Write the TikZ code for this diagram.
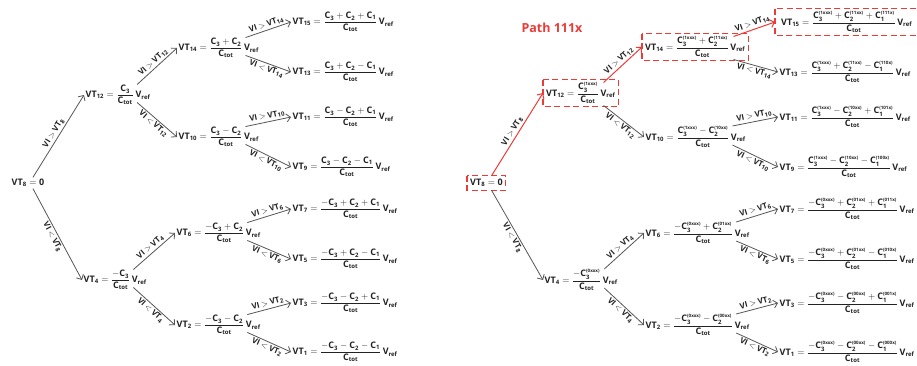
\documentclass[tikz,border=0pt]{standalone}
\usepackage{amsmath}
\usepackage{fontspec}
\setmainfont{Open Sans}
\usetikzlibrary{arrows.meta,calc}
\definecolor{ink}{HTML}{222222}
\definecolor{ln}{HTML}{555555}
\definecolor{pr}{HTML}{EC3A36}
\newcommand\VT[1]{\text{VT}_{\text{#1}}}
\newcommand\Cs[1]{\text{C}_{\text{#1}}}
\newcommand\Cx[2]{\text{C}_{\text{#1}}^{\text{\fontsize{4.5}{5}\selectfont(#2)}}}
\newcommand\Ctot{\text{C}_{\text{tot}}}
\newcommand\Vref{\text{V}_{\text{ref}}}
\newcommand\Eq[2]{$\VT{#1} = \dfrac{#2}{\Ctot}\,\Vref$}
\tikzset{
  eqn/.style={anchor=west, inner sep=1.5pt, font=\bfseries\fontsize{9}{10}\selectfont},
  hl/.style={inner sep=3pt},
  hlbox/.style={draw=pr, dash pattern=on 6pt off 3.5pt, line width=1.2pt},
  arr/.style={draw=ln, line width=0.8pt, -{Straight Barb[length=4pt,width=8pt]}},
  rarr/.style={draw=pr, line width=1pt, -{Straight Barb[length=4pt,width=8pt]}},
  lab/.style={sloped, midway, font=\bfseries\fontsize{8}{9}\selectfont, inner sep=1.5pt},
  tag/.style={text=pr, font=\bfseries\fontsize{12.5}{14}\selectfont, anchor=west}
}
\begin{document}
\begin{tikzpicture}[x=1pt,y=-1pt,color=ink]
\useasboundingbox (0,0) rectangle (917,366);
% ---------------- left tree ----------------
\node[eqn] (r) at (10,183) {$\VT{8} = \text{0}$};
\node[eqn] (a) at (84,95) {\Eq{12}{\Cs3}};
\node[eqn] (b) at (82,280) {\Eq{4}{-\Cs3}};
\node[eqn] (c) at (177,48) {\Eq{14}{\Cs3 + \Cs2}};
\node[eqn] (d) at (177,137) {\Eq{10}{\Cs3 - \Cs2}};
\node[eqn] (e) at (175,233) {\Eq{6}{-\Cs3 + \Cs2}};
\node[eqn] (f) at (175,325) {\Eq{2}{-\Cs3 - \Cs2}};
\node[eqn] (l15) at (291,22) {\Eq{15}{\Cs3 + \Cs2 + \Cs1}};
\node[eqn] (l13) at (291,72) {\Eq{13}{\Cs3 + \Cs2 - \Cs1}};
\node[eqn] (l11) at (291,117) {\Eq{11}{\Cs3 - \Cs2 + \Cs1}};
\node[eqn] (l9) at (291,167) {\Eq{9}{\Cs3 - \Cs2 - \Cs1}};
\node[eqn] (l7) at (291,209) {\Eq{7}{-\Cs3 + \Cs2 + \Cs1}};
\node[eqn] (l5) at (291,259) {\Eq{5}{-\Cs3 + \Cs2 - \Cs1}};
\node[eqn] (l3) at (291,303) {\Eq{3}{-\Cs3 - \Cs2 + \Cs1}};
\node[eqn] (l1) at (291,352) {\Eq{1}{-\Cs3 - \Cs2 - \Cs1}};
% arrows left
\draw[arr] ([xshift=5pt]r.north) -- node[lab,above]{VI $>$ $\VT{8}$} (a.west);
\draw[arr] ([xshift=5pt]r.south) -- node[lab,below]{VI $<$ $\VT{8}$} (b.west);
\foreach \p/\q/\s/\n in {a/c/d/12, b/e/f/4, c/l15/l13/14, d/l11/l9/10, e/l7/l5/6, f/l3/l1/2}{
  \draw[arr] ([xshift=-15pt,yshift=-1pt]\p.north east) -- node[lab,above]{VI $>$ $\VT{\n}$} (\q.west);
  \draw[arr] ([xshift=-15pt,yshift=4pt]\p.south east) -- node[lab,below]{VI $<$ $\VT{\n}$} (\s.west);
}
% ---------------- right tree ----------------
\node[tag] (path) at (518,28) {Path 111x};
\node[eqn,hl] (R) at (467,183) {$\VT{8} = \text{0}$};
\node[eqn,hl] (A) at (543,93) {\Eq{12}{\Cx3{1xxx}}};
\node[eqn] (B) at (543,280) {\Eq{4}{-\Cx3{0xxx}}};
\node[eqn,hl] (C) at (642,47) {\Eq{14}{\Cx3{1xxx} + \Cx2{11xx}}};
\node[eqn] (D) at (644,137) {\Eq{10}{\Cx3{1xxx} - \Cx2{10xx}}};
\node[eqn] (E) at (644,233) {\Eq{6}{-\Cx3{0xxx} + \Cx2{01xx}}};
\node[eqn] (F) at (644,325) {\Eq{2}{-\Cx3{0xxx} - \Cx2{00xx}}};
\node[eqn,hl,inner xsep=6pt] (r15) at (775,22) {\Eq{15}{\Cx3{1xxx} + \Cx2{11xx} + \Cx1{111x}}};
\node[eqn] (r13) at (778,72) {\Eq{13}{\Cx3{1xxx} + \Cx2{11xx} - \Cx1{110x}}};
\node[eqn] (r11) at (778,117) {\Eq{11}{\Cx3{1xxx} - \Cx2{10xx} + \Cx1{101x}}};
\node[eqn] (r9) at (778,167) {\Eq{9}{\Cx3{1xxx} - \Cx2{10xx} - \Cx1{100x}}};
\node[eqn] (r7) at (778,209) {\Eq{7}{-\Cx3{0xxx} + \Cx2{01xx} + \Cx1{011x}}};
\node[eqn] (r5) at (778,259) {\Eq{5}{-\Cx3{0xxx} + \Cx2{01xx} - \Cx1{010x}}};
\node[eqn] (r3) at (778,303) {\Eq{3}{-\Cx3{0xxx} - \Cx2{00xx} + \Cx1{001x}}};
\node[eqn] (r1) at (778,352) {\Eq{1}{-\Cx3{0xxx} - \Cx2{00xx} - \Cx1{000x}}};
% highlighted path boxes
\foreach \h in {R,A,C,r15}{
  \draw[hlbox] (\h.north west) rectangle (\h.south east);
}
% arrows right
\draw[rarr] ([xshift=5pt]R.north) -- node[lab,above]{VI $>$ $\VT{8}$} (A.west);
\draw[arr] ([xshift=5pt]R.south) -- node[lab,below]{VI $<$ $\VT{8}$} (B.west);
\draw[rarr] ([xshift=-15pt,yshift=-3pt]A.north east) -- node[lab,above]{VI $>$ $\VT{12}$} (C.west);
\draw[arr] ([xshift=-15pt,yshift=1pt]A.south east) -- node[lab,below]{VI $<$ $\VT{12}$} (D.west);
\draw[rarr] ([xshift=-15pt,yshift=-3pt]C.north east) -- node[lab,above]{VI $>$ $\VT{14}$} (r15.west);
\draw[arr] ([xshift=-15pt,yshift=1pt]C.south east) -- node[lab,below]{VI $<$ $\VT{14}$} (r13.west);
\foreach \p/\q/\s/\n in {B/E/F/4, D/r11/r9/10, E/r7/r5/6, F/r3/r1/2}{
  \draw[arr] ([xshift=-15pt,yshift=-1pt]\p.north east) -- node[lab,above]{VI $>$ $\VT{\n}$} (\q.west);
  \draw[arr] ([xshift=-15pt,yshift=4pt]\p.south east) -- node[lab,below]{VI $<$ $\VT{\n}$} (\s.west);
}
\end{tikzpicture}
\end{document}
